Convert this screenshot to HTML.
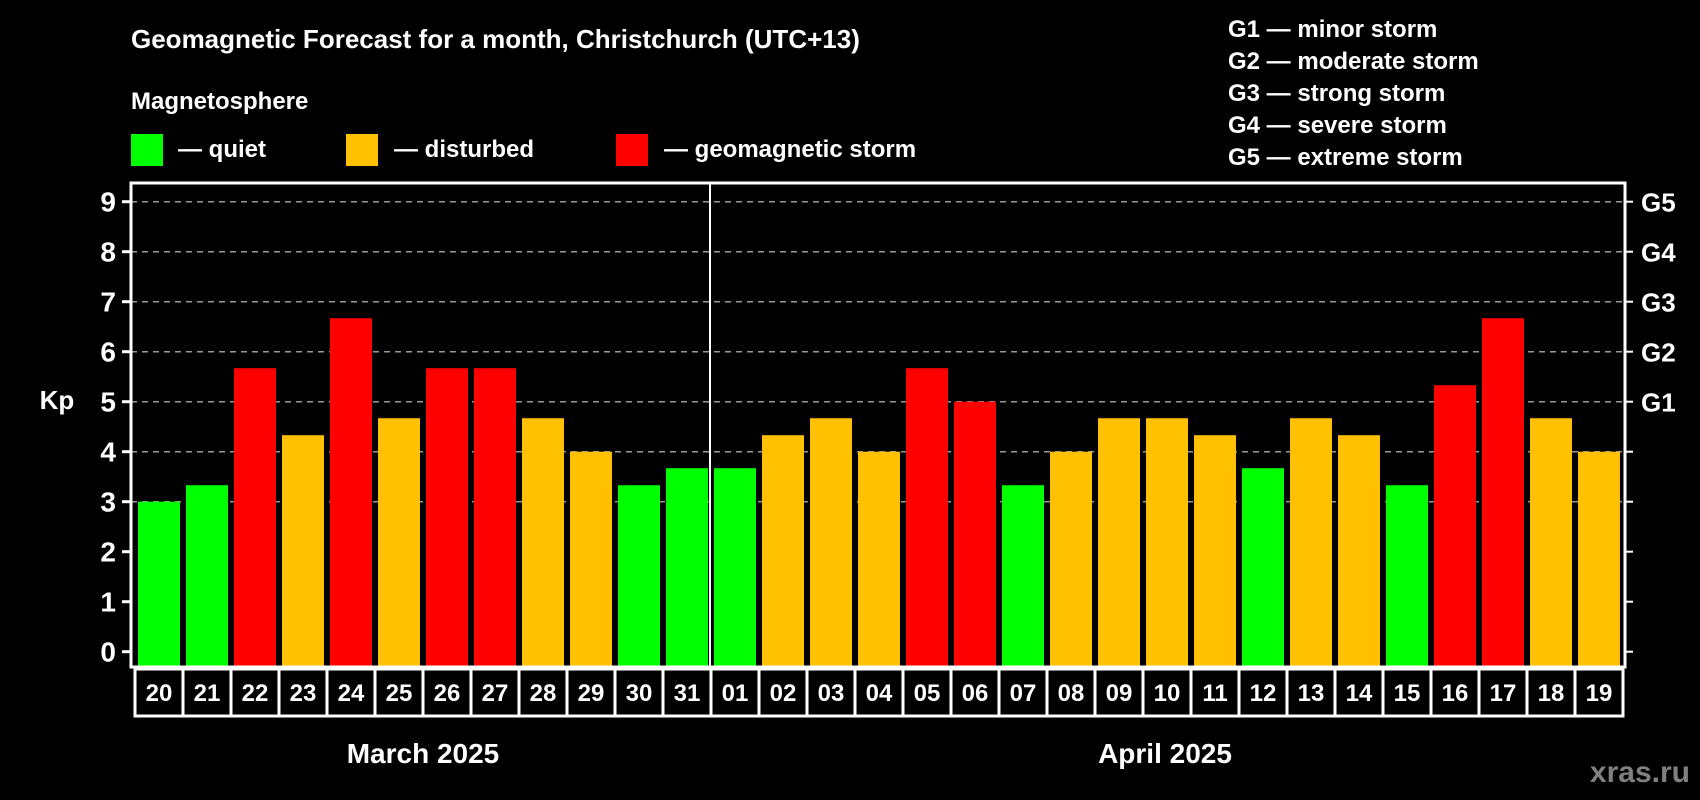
<!DOCTYPE html>
<html><head><meta charset="utf-8"><style>
html,body{margin:0;padding:0;background:#000;}
svg{display:block;font-family:"Liberation Sans",Arial,sans-serif;font-weight:bold;}
</style></head><body>
<svg id="chart" width="1700" height="800" viewBox="0 0 1700 800" xmlns="http://www.w3.org/2000/svg">
<rect x="0" y="0" width="1700" height="800" fill="#000"/>
<text x="131" y="48" fill="#fff" font-size="26">Geomagnetic Forecast for a month, Christchurch (UTC+13)</text>
<text x="131" y="109" fill="#fff" font-size="24">Magnetosphere</text>
<g><rect x="131" y="134" width="32" height="32" fill="#00ff00"/><text x="178" y="157" fill="#fff" font-size="24">— quiet</text></g>
<g><rect x="346" y="134" width="32" height="32" fill="#ffc000"/><text x="394" y="157" fill="#fff" font-size="24">— disturbed</text></g>
<g><rect x="616" y="134" width="32" height="32" fill="#ff0000"/><text x="664" y="157" fill="#fff" font-size="24">— geomagnetic storm</text></g>
<g fill="#fff" font-size="24">
<text x="1228" y="37">G1 — minor storm</text>
<text x="1228" y="69">G2 — moderate storm</text>
<text x="1228" y="101">G3 — strong storm</text>
<text x="1228" y="133">G4 — severe storm</text>
<text x="1228" y="165">G5 — extreme storm</text>
</g>
<g id="grid"></g>
<g id="bars"></g>
<g id="axes"></g>
<text x="57" y="409" fill="#fff" font-size="26" text-anchor="middle">Kp</text>
<text x="423" y="763" fill="#fff" font-size="28" text-anchor="middle">March 2025</text>
<text x="1165" y="763" fill="#fff" font-size="28" text-anchor="middle">April 2025</text>
<text x="1690" y="782" fill="#808080" font-size="30" text-anchor="end">xras.ru</text>
</svg>
<script>
const days = ["20","21","22","23","24","25","26","27","28","29","30","31","01","02","03","04","05","06","07","08","09","10","11","12","13","14","15","16","17","18","19"];
const kpValues = [3,3.33,5.67,4.33,6.67,4.67,5.67,5.67,4.67,4,3.33,3.67,3.67,4.33,4.67,4,5.67,5,3.33,4,4.67,4.67,4.33,3.67,4.67,4.33,3.33,5.33,6.67,4.67,4];
const yTicks = [0,1,2,3,4,5,6,7,8,9];
const gLabels = ["G1","G2","G3","G4","G5"];
const gLevels = [5,6,7,8,9];
const NS="http://www.w3.org/2000/svg";
const L=131,R=1625,T=183,B=667,Y0=651.7,UNIT=50,SLOT=48,BX=138,BW=42;
const y=v=>Y0-v*UNIT;
const x=i=>BX+i*SLOT;
function mk(tag,attrs,parent){const e=document.createElementNS(NS,tag);for(const k in attrs)e.setAttribute(k,attrs[k]);parent.appendChild(e);return e;}
const grid=document.getElementById('grid'),bars=document.getElementById('bars'),axes=document.getElementById('axes');
yTicks.forEach(t=>{
  if(t>=3){const g=mk('line',{x1:L,x2:R,y1:y(t),y2:y(t),stroke:'#999','stroke-width':1.5,'stroke-dasharray':'6,5'},grid);
  
  }
  const tk=mk('line',{x1:122,x2:L,y1:y(t),y2:y(t),stroke:'#fff','stroke-width':3},axes);
  
  
  const tr=mk('line',{x1:R,x2:1633,y1:y(t),y2:y(t),stroke:'#fff','stroke-width':2},axes);
  
  
  const lb=mk('text',{x:116,y:y(t)+10,fill:'#fff','font-size':28,'text-anchor':'end'},axes);
  lb.textContent=t;
  
  
});
gLabels.forEach((g,i)=>{
  const t=mk('text',{x:1641,y:y(gLevels[i])+10,fill:'#fff','font-size':26},axes);
  t.textContent=g;
  
  
});
kpValues.forEach((v,i)=>{
  const c=v>=5?'#ff0000':(v>=4?'#ffc000':'#00ff00');
  const r=mk('rect',{x:x(i),y:y(v),width:BW,height:B-y(v),fill:c},bars);
  
  
  const bx=mk('rect',{x:135+i*SLOT,y:669,width:SLOT,height:47,fill:'none',stroke:'#fff','stroke-width':3},axes);
  
  
  const tx=mk('text',{x:135+i*SLOT+SLOT/2,y:701,fill:'#fff','font-size':24,'text-anchor':'middle'},axes);
  tx.textContent=days[i];
  
  
});
const fr=mk('rect',{x:L,y:T,width:R-L,height:B-T,fill:'none',stroke:'#fff','stroke-width':3},axes);


const dv=mk('line',{x1:135+12*SLOT-1,x2:135+12*SLOT-1,y1:T,y2:B,stroke:'#fff','stroke-width':2},axes);


</script>
</body></html>
